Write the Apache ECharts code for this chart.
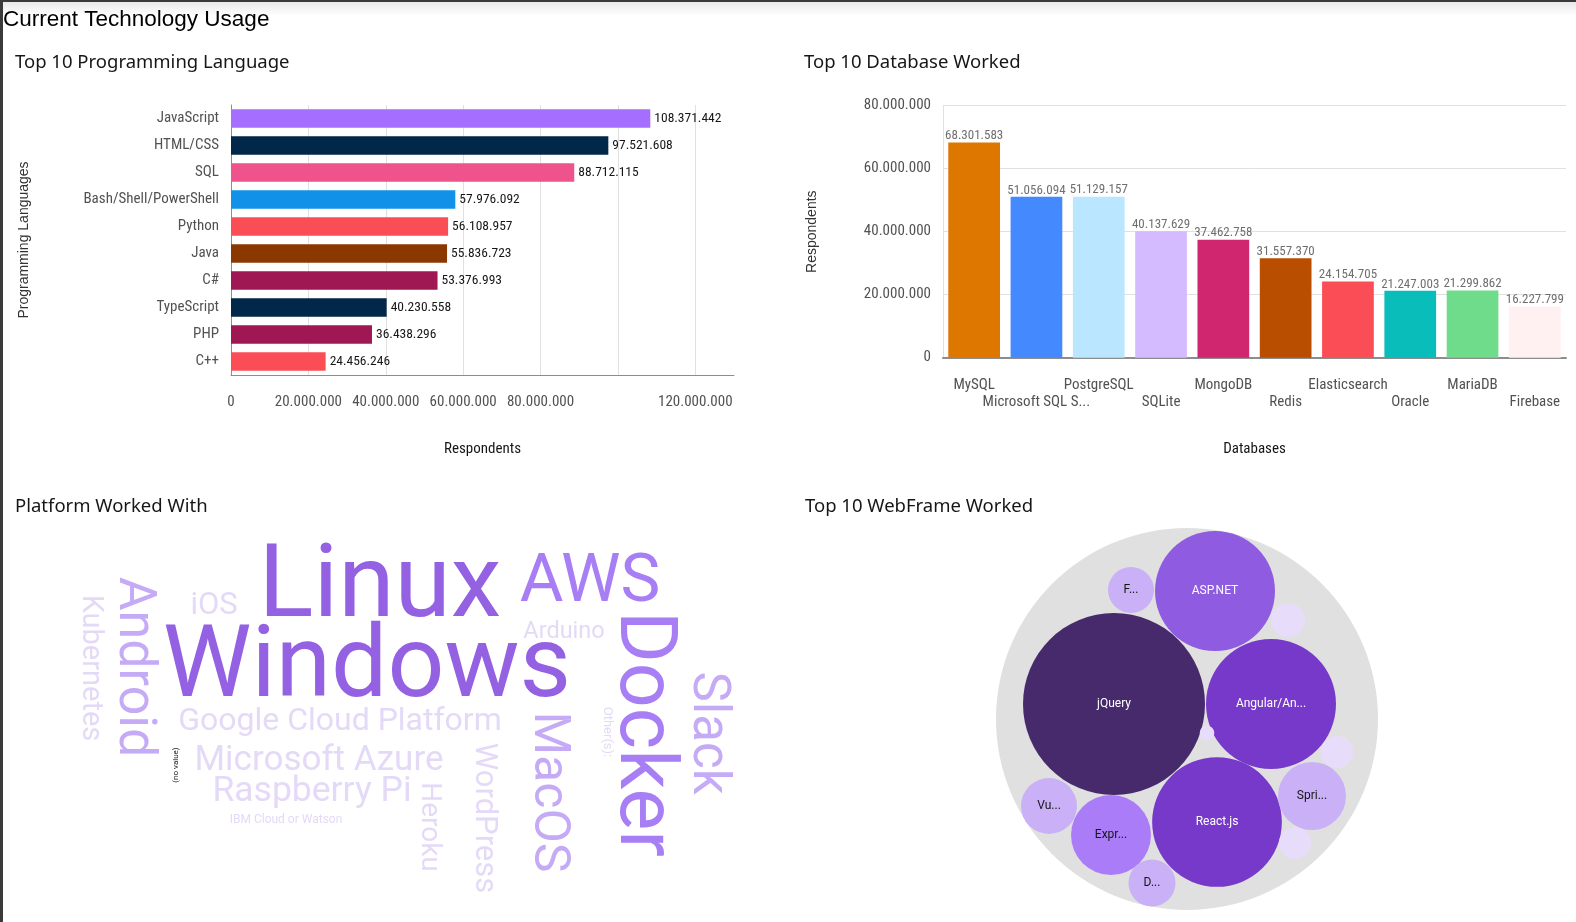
<!DOCTYPE html>
<html>
<head>
<meta charset="utf-8">
<script src="https://cdn.jsdelivr.net/npm/echarts@6/dist/echarts.min.js"></script>
<style>
html,body{margin:0;padding:0;background:#fff;}
#main{width:1576px;height:922px;}
</style>
</head>
<body>
<div id="main"></div>
<script>
// ---------- data ----------
const langCategories = ['JavaScript','HTML/CSS','SQL','Bash/Shell/PowerShell','Python','Java','C#','TypeScript','PHP','C++'];
const langValues = [108371442, 97521608, 88712115, 57976092, 56108957, 55836723, 53376993, 40230558, 36438296, 24456246];
const langTickLabels = [0, 20000000, 40000000, 60000000, 80000000, 120000000];

const dbCategories = ['MySQL','Microsoft SQL Server','PostgreSQL','SQLite','MongoDB','Redis','Elasticsearch','Oracle','MariaDB','Firebase'];
const dbValues = [68301583, 51056094, 51129157, 40137629, 37462758, 31557370, 24154705, 21247003, 21299862, 16227799];

const platformWords = ['Linux','Windows','Docker','AWS','Android','Slack','MacOS','Raspberry Pi','Microsoft Azure','Google Cloud Platform','iOS','WordPress','Kubernetes','Heroku','Arduino','Other(s):','IBM Cloud or Watson','(no value)'];
const platformCounts = [5811, 5697, 4501, 3817, 2962, 2906, 2849, 2022, 1994, 1823, 1766, 1766, 1652, 1595, 1339, 741, 684, 456];

const webFrameNames = ['jQuery','Angular/Angular.js','React.js','ASP.NET','Express','Spring','Vue.js','Django','Flask','Laravel','Ruby on Rails','Drupal','Other(s):'];
const webFrameValues = [4629, 2362, 2351, 2012, 894, 646, 438, 309, 296, 162, 143, 143, 30];

// ---------- layout / style (not data) ----------
const langColors = ['#a56eff','#012749','#ee538b','#1192e8','#fa4d56','#8a3800','#9f1853','#012749','#9f1853','#fa4d56'];
const dbColors = ['#dd7700','#4589ff','#bae6ff','#d4bbff','#d02670','#ba4e00','#fa4d56','#08bdba','#6fdc8c','#fff1f1'];
// word cloud placement: [centerX, centerY, rotationDeg]
const cloudLayout = [
  [380, 590, 0], [367, 671, 0], [641, 734, -90], [590, 584, 0], [133, 667, -90],
  [707, 733, -90], [547, 792, -90], [312, 792, 0], [319, 761, 0], [340, 722, 0],
  [214, 606, 0], [484, 818, -90], [90, 668, -90], [429, 827, -90], [564, 632, 0],
  [607, 732, -90], [286, 820, 0], [176, 765, 90]
];
// bubble pack placement: offsets from pack centre
const packCenter = [1187, 719];
const packRadius = 191;
const packLayout = [
  [-73, -15], [84, -15], [30, 103], [28, -128], [-76, 116], [125, 77], [-138, 87],
  [-35, 164], [-56, -129], [101, -99], [150, 33], [108, 124], [20, 14]
];

const NARROW = "'Liberation Sans Narrow','Arial Narrow','Roboto Condensed',Roboto,sans-serif";
const PLAIN = "'Noto Sans',Roboto,sans-serif";
const ARIAL = "'Liberation Sans',Arial,sans-serif";
const BUBBLE_FONT = '12px Roboto, sans-serif';

function fmt(v) {
  return Math.round(v).toString().replace(/\B(?=(\d{3})+(?!\d))/g, '.');
}

// word cloud scales
const maxCount = Math.max(...platformCounts);
function wordSize(c) { return 102 * c / maxCount; }
function wordColor(c, w) {
  if (w === '(no value)') return '#161616';
  if (c >= 5000) return '#9361e2';
  if (c >= 3500) return '#a77ef4';
  if (c >= 2500) return '#c5abf5';
  return '#e4daf8';
}

// bubble scales
const maxWeb = Math.max(...webFrameValues);
const R_MAX = 91;
function bubbleR(v) { return R_MAX * Math.sqrt(v / maxWeb); }
function bubbleColor(v) {
  if (v >= 4000) return '#462a6c';
  if (v >= 2300) return '#7739c9';
  if (v >= 1500) return '#8e5be1';
  if (v >= 800) return '#aa7cf7';
  if (v >= 250) return '#c9b0f7';
  return '#e8dcfb';
}
const measureCtx = document.createElement('canvas').getContext('2d');
function fitLabel(text, maxW) {
  measureCtx.font = BUBBLE_FONT;
  if (measureCtx.measureText(text).width <= maxW) return text;
  let s = text;
  while (s.length > 0 && measureCtx.measureText(s + '...').width > maxW) s = s.slice(0, -1);
  return s + '...';
}

const chart = echarts.init(document.getElementById('main'), null, {renderer: 'canvas'});

const titleStyle = {fontSize: 18.5, fontWeight: 'normal', fontFamily: PLAIN, color: '#161616'};

const option = {
  animation: false,
  backgroundColor: '#ffffff',
  title: [
    {text: 'Current Technology Usage', left: 3, top: 8, padding: 0,
     textStyle: {fontSize: 22.5, fontWeight: 'normal', fontFamily: ARIAL, color: '#000'}},
    {text: 'Top 10 Programming Language', left: 15, top: 53, padding: 0, textStyle: titleStyle},
    {text: 'Top 10 Database Worked', left: 804, top: 53, padding: 0, textStyle: titleStyle},
    {text: 'Platform Worked With', left: 15, top: 497, padding: 0, textStyle: titleStyle},
    {text: 'Top 10 WebFrame Worked', left: 805, top: 497, padding: 0, textStyle: titleStyle}
  ],
  graphic: [
    {type: 'rect', left: 0, top: 2, shape: {width: 1576, height: 14}, silent: true, z: -1,
     style: {fill: new echarts.graphic.LinearGradient(0, 0, 0, 1, [{offset: 0, color: '#e9e9e9'}, {offset: 1, color: '#ffffff'}])}},
    {type: 'rect', left: 0, top: 0, shape: {width: 1576, height: 2}, silent: true, style: {fill: '#3a3a3a'}},
    {type: 'rect', left: 0, top: 0, shape: {width: 3, height: 922}, silent: true, style: {fill: '#3a3a3a'}}
  ],
  grid: [
    {left: 231, top: 105, width: 503, height: 270},
    {left: 943, top: 105.7, width: 623, height: 252},
    {left: 0, top: 0, width: 1576, height: 922}
  ],
  xAxis: [
    {gridIndex: 0, type: 'value', min: 0, max: 130000000, interval: 20000000,
     axisLine: {show: true, lineStyle: {color: '#8d8d8d'}},
     axisTick: {show: false},
     splitLine: {show: true, showMaxLine: false, lineStyle: {color: '#e0e0e0'}},
     axisLabel: {margin: 20, color: '#525252', fontSize: 15, fontFamily: NARROW, showMaxLabel: false,
       formatter: v => langTickLabels.indexOf(v) >= 0 ? fmt(v) : ''},
     name: 'Respondents', nameLocation: 'middle', nameGap: 67,
     nameTextStyle: {fontSize: 15, color: '#161616', fontFamily: NARROW}},
    {gridIndex: 1, type: 'category', data: dbCategories,
     axisLine: {show: true, lineStyle: {color: '#8d8d8d', width: 2}},
     axisTick: {show: false},
     axisLabel: {interval: 0, margin: 19, lineHeight: 17, color: '#525252', fontSize: 15, fontFamily: NARROW,
       formatter: (v, i) => (i % 2 ? '\n' : '') + (v.length > 15 ? v.slice(0, 15) + '...' : v)},
     name: 'Databases', nameLocation: 'middle', nameGap: 84,
     nameTextStyle: {fontSize: 15, color: '#161616', fontFamily: NARROW}},
    {gridIndex: 2, type: 'value', min: 0, max: 1576, show: false}
  ],
  yAxis: [
    {gridIndex: 0, type: 'category', data: langCategories, inverse: true,
     axisLine: {show: true, lineStyle: {color: '#8d8d8d'}},
     axisTick: {show: false},
     axisLabel: {margin: 12, color: '#525252', fontSize: 15, fontFamily: NARROW},
     name: 'Programming Languages', nameLocation: 'middle', nameGap: 200,
     nameTextStyle: {fontSize: 14, color: '#333', fontFamily: ARIAL}},
    {gridIndex: 1, type: 'value', min: 0, max: 80000000, interval: 20000000,
     axisLine: {show: true, lineStyle: {color: '#e0e0e0'}},
     axisTick: {show: false},
     splitLine: {show: true, lineStyle: {color: '#e0e0e0'}},
     axisLabel: {margin: 12, color: '#525252', fontSize: 15, fontFamily: NARROW, formatter: v => fmt(v)},
     name: 'Respondents', nameLocation: 'middle', nameGap: 124,
     nameTextStyle: {fontSize: 14, color: '#333', fontFamily: ARIAL}},
    {gridIndex: 2, type: 'value', min: 0, max: 922, inverse: true, show: false}
  ],
  series: [
    {type: 'bar', xAxisIndex: 0, yAxisIndex: 0, barCategoryGap: '31.5%',
     data: langValues.map((v, i) => ({value: v, itemStyle: {color: langColors[i]}})),
     label: {show: true, position: 'right', distance: 4, color: '#161616', fontSize: 13.5, fontFamily: NARROW,
       formatter: p => fmt(p.value)},
     silent: true},
    {type: 'bar', xAxisIndex: 1, yAxisIndex: 1, barCategoryGap: '17%',
     data: dbValues.map((v, i) => ({value: v, itemStyle: {color: dbColors[i]}})),
     label: {show: true, position: 'top', distance: 0, color: '#6f6f6f', fontSize: 13, fontFamily: NARROW,
       formatter: p => fmt(p.value)},
     silent: true},
    {type: 'custom', xAxisIndex: 2, yAxisIndex: 2, silent: true, clip: false,
     data: platformWords.map((w, i) => [cloudLayout[i][0], cloudLayout[i][1], cloudLayout[i][2], platformCounts[i]]),
     renderItem: (params, api) => {
       const i = params.dataIndex;
       const p = api.coord([api.value(0), api.value(1)]);
       const c = api.value(3);
       return {
         type: 'text', x: p[0], y: p[1], rotation: api.value(2) * Math.PI / 180,
         style: {text: platformWords[i], fontSize: wordSize(c), fontFamily: 'Roboto,sans-serif',
           fill: wordColor(c, platformWords[i]), align: 'center', verticalAlign: 'middle'}
       };
     }},
    {type: 'scatter', xAxisIndex: 2, yAxisIndex: 2, silent: true,
     data: [[packCenter[0], packCenter[1]]], symbolSize: packRadius * 2,
     itemStyle: {color: '#e0e0e0', opacity: 1}},
    {type: 'scatter', xAxisIndex: 2, yAxisIndex: 2, silent: true,
     symbolSize: val => 2 * bubbleR(val[2]),
     data: webFrameNames.map((n, i) => {
       const v = webFrameValues[i];
       return {
         name: n,
         value: [packCenter[0] + packLayout[i][0], packCenter[1] + packLayout[i][1], v],
         itemStyle: {color: bubbleColor(v), opacity: 1},
         label: {show: v >= 250, color: v >= 1500 ? '#ffffff' : '#161616'}
       };
     }),
     label: {position: 'inside', fontSize: 12, fontFamily: 'Roboto, sans-serif',
       formatter: p => fitLabel(p.name, 1.27 * bubbleR(p.value[2]) - 11.85)}}
  ]
};
chart.setOption(option);
</script>
</body>
</html>
